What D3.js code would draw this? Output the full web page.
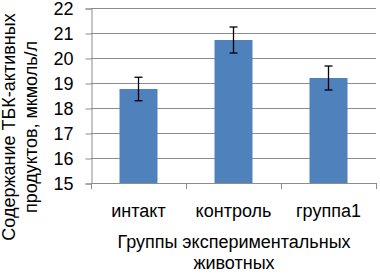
<!DOCTYPE html>
<html>
<head>
<meta charset="utf-8">
<script src="https://cdn.jsdelivr.net/npm/d3@7"></script>
<style>
  body { margin: 0; background: #fff; }
  text { font-family: "Liberation Sans", Arial, sans-serif; fill: #000; }
</style>
</head>
<body>
<div class="container"></div>
<script>
const categories = ["интакт", "контроль", "группа1"]
const values = [18.76, 20.72, 19.2]
const errors = [0.47, 0.52, 0.48]
const yTicks = [15, 16, 17, 18, 19, 20, 21, 22]

const wd = 380, ht = 274
const margin = {left: 91, right: 4, top: 8, bottom: 91}

const svg = d3.select(".container").append("svg")
  .attr("width", wd).attr("height", ht)

const x = d3.scaleBand()
  .domain(categories)
  .range([margin.left, wd - margin.right])
  .paddingInner(0.6).paddingOuter(0.3)

const xEdge = d3.scaleLinear()
  .domain([0, categories.length])
  .range([margin.left, wd - margin.right])

const y = d3.scaleLinear()
  .domain([15, 22])
  .range([ht - margin.bottom, margin.top])

// gridlines
svg.append("g").selectAll("line")
  .data(yTicks.slice(1))
  .enter().append("line")
  .attr("x1", margin.left).attr("x2", wd - margin.right)
  .attr("y1", d => y(d) + 0.5).attr("y2", d => y(d) + 0.5)
  .attr("stroke", "#8c8c8c").attr("stroke-width", 1)

// y axis
const yAxis = svg.append("g")
  .attr("transform", "translate(" + (margin.left + 0.5) + ",0.5)")
  .call(d3.axisLeft(y).tickValues(yTicks).tickFormat(d3.format("d")).tickSize(6).tickPadding(12))
yAxis.select(".domain").attr("stroke", "#8c8c8c")
yAxis.selectAll(".tick line").attr("stroke", "#8c8c8c")
yAxis.selectAll("text").style("font-size", "18px").attr("dy", "0.36em")

// x axis
svg.append("line")
  .attr("x1", margin.left).attr("x2", wd - margin.right)
  .attr("y1", y(15) + 0.5).attr("y2", y(15) + 0.5)
  .attr("stroke", "#8c8c8c")
svg.append("g").selectAll("line")
  .data(d3.range(categories.length + 1))
  .enter().append("line")
  .attr("x1", d => xEdge(d) + 0.5).attr("x2", d => xEdge(d) + 0.5)
  .attr("y1", y(15)).attr("y2", y(15) + 6)
  .attr("stroke", "#8c8c8c")

svg.append("g").selectAll("text")
  .data(categories)
  .enter().append("text")
  .attr("x", d => x(d) + x.bandwidth() / 2)
  .attr("y", 217)
  .attr("text-anchor", "middle")
  .style("font-size", "18px")
  .text(d => d)

// bars
svg.append("g").selectAll("rect")
  .data(values)
  .enter().append("rect")
  .attr("x", (d, i) => x(categories[i]))
  .attr("width", x.bandwidth())
  .attr("y", d => y(d))
  .attr("height", d => y(15) - y(d))
  .attr("fill", "#4f81bd")

// error bars
const eb = svg.append("g").attr("stroke", "#000").attr("stroke-width", 1.3)
values.forEach((v, i) => {
  const cx = x(categories[i]) + x.bandwidth() / 2
  eb.append("line").attr("x1", cx).attr("x2", cx)
    .attr("y1", y(v + errors[i])).attr("y2", y(v - errors[i]))
  eb.append("line").attr("x1", cx - 4).attr("x2", cx + 4)
    .attr("y1", y(v + errors[i])).attr("y2", y(v + errors[i]))
  eb.append("line").attr("x1", cx - 4).attr("x2", cx + 4)
    .attr("y1", y(v - errors[i])).attr("y2", y(v - errors[i]))
})

// axis titles
const xt = svg.append("text")
  .attr("text-anchor", "middle")
  .style("font-size", "18px")
xt.append("tspan").attr("x", 234).attr("y", 248).text("Группы экспериментальных")
xt.append("tspan").attr("x", 234).attr("y", 269).text("животных")

const yt = svg.append("text")
  .attr("text-anchor", "middle")
  .attr("transform", "translate(0,127) rotate(-90)")
  .style("font-size", "18px")
yt.append("tspan").attr("x", 0).attr("y", 15).text("Содержание ТБК-активных")
yt.append("tspan").attr("x", 0).attr("y", 37).text("продуктов, мкмоль/л")
</script>
</body>
</html>
